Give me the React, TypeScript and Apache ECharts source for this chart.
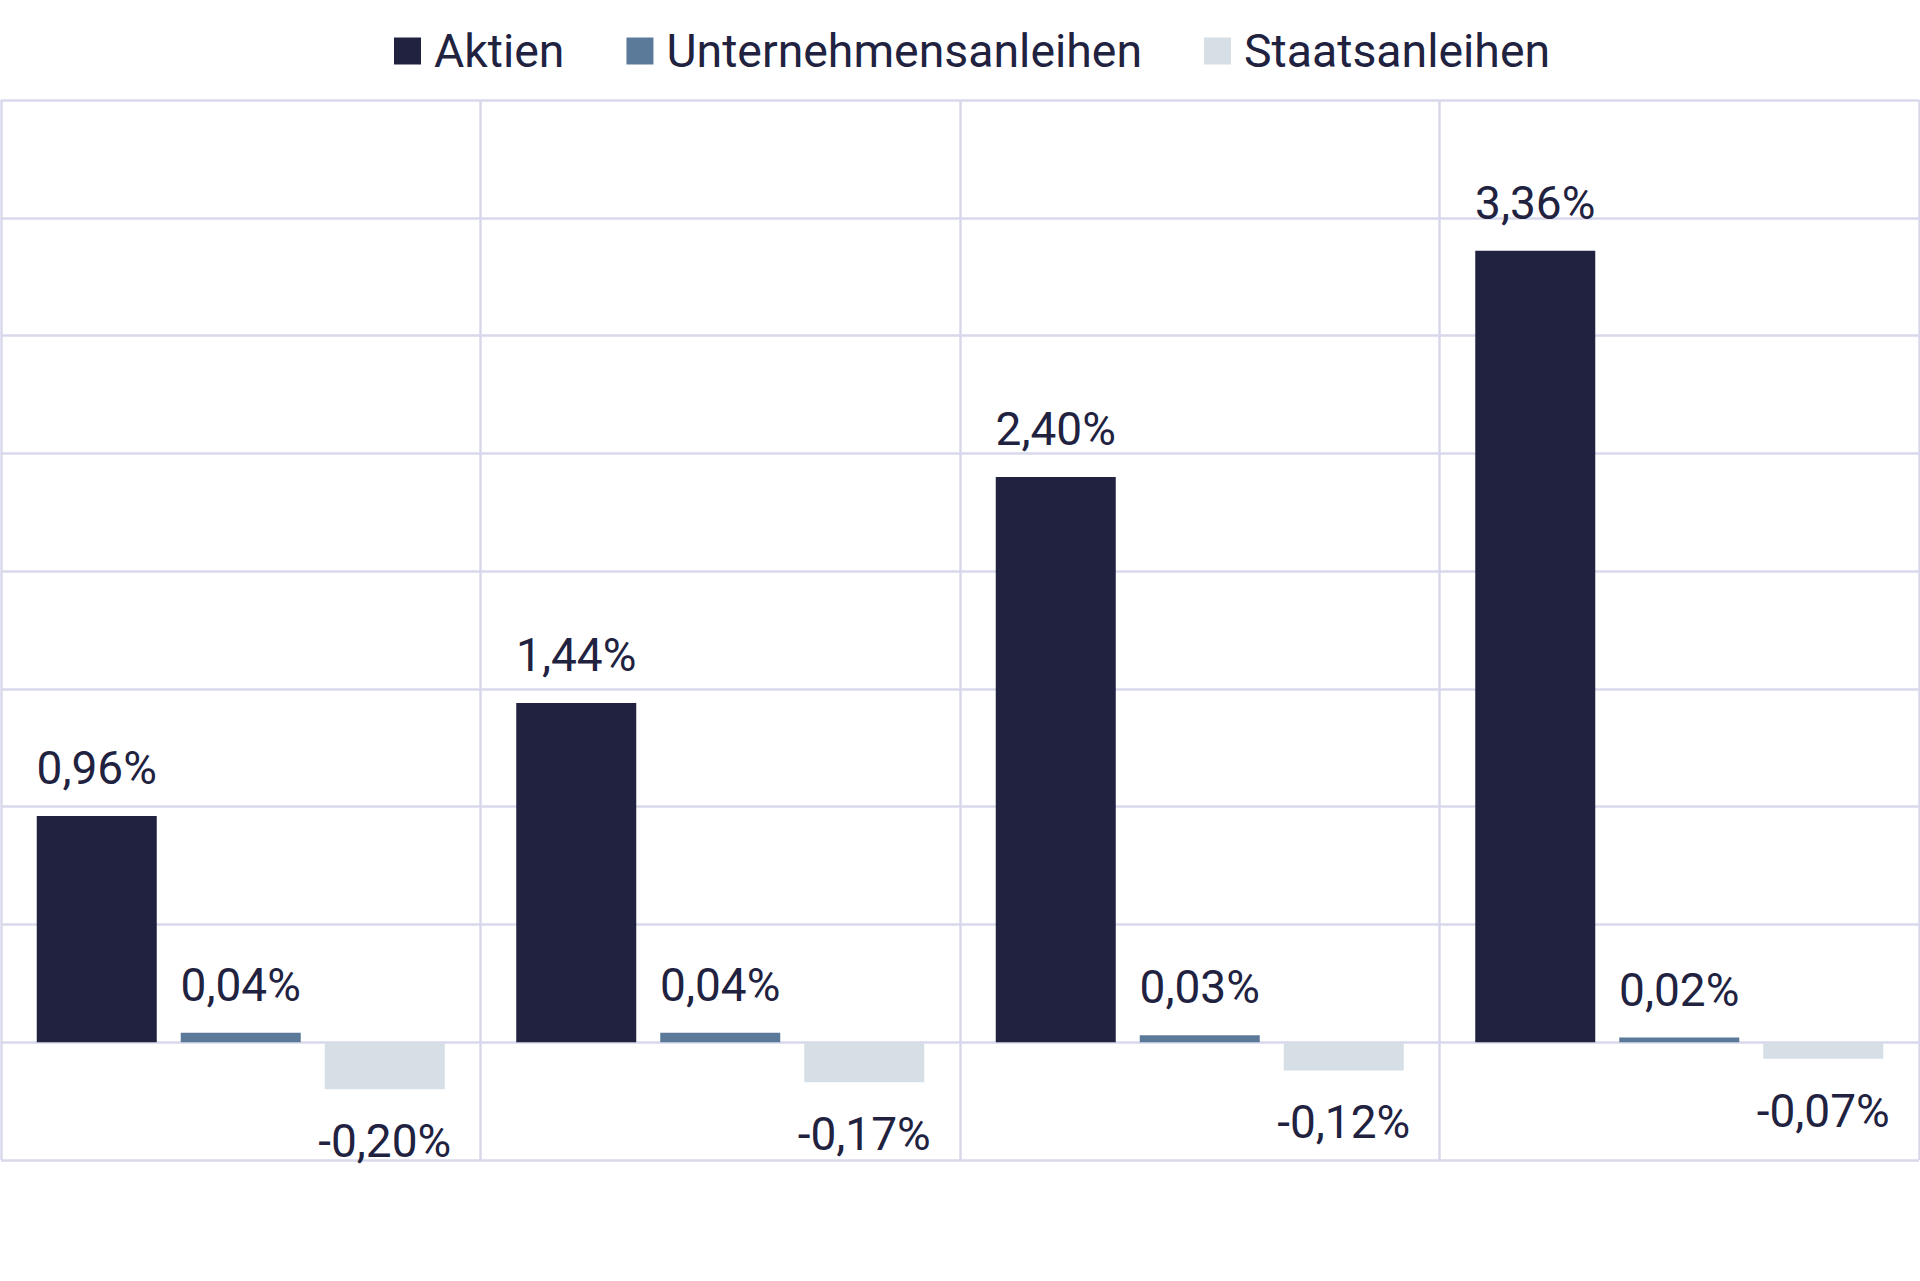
import React, { useRef, useEffect } from 'react';
import * as echarts from 'echarts';

const categories = ['A', 'B', 'C', 'D'];
const aktien = [0.96, 1.44, 2.4, 3.36];
const unternehmensanleihen = [0.04, 0.04, 0.03, 0.02];
const staatsanleihen = [-0.2, -0.17, -0.12, -0.07];

const TEXT = '#21223f';
const GRID = '#d8d8ec';

const fmt = (p: any) => p.value.toFixed(2).replace('.', ',') + '%';

export default function App() {
  const chartRef = useRef<HTMLDivElement>(null);

  useEffect(() => {
    if (!chartRef.current) return;
    const chart = echarts.init(chartRef.current, undefined, { renderer: 'svg' });

    const label = {
      show: true,
      formatter: fmt,
      fontFamily: 'Roboto',
      fontSize: 46,
      color: TEXT,
    };

    // labels sit above positive bars and below negative ones
    const mk = (name: string, data: number[], color: string) => ({
      name,
      type: 'bar',
      data: data.map((v) => ({
        value: v,
        label: { position: v < 0 ? 'bottom' : 'top', distance: v < 0 ? 29 : 25 },
      })),
      barWidth: 120,
      barGap: '20%',
      itemStyle: { color },
      label,
    });

    const option: echarts.EChartsOption = {
      animation: false,
      textStyle: { fontFamily: 'Roboto', color: TEXT },
      legend: {
        top: 23,
        left: 389,
        itemWidth: 27,
        itemHeight: 27,
        itemGap: 62,
        icon: 'rect',
        textStyle: { fontSize: 46.4, color: TEXT, fontFamily: 'Roboto', padding: [0, 0, 0, 8] },
        data: ['Aktien', 'Unternehmensanleihen', 'Staatsanleihen'],
      },
      grid: { left: 1, right: 1, top: 100, bottom: 121, containLabel: false },
      xAxis: {
        type: 'category',
        data: categories,
        axisLine: { show: false },
        axisTick: { show: false },
        axisLabel: { show: false },
        splitLine: { show: true, lineStyle: { color: GRID, width: 2.5 } },
      },
      yAxis: {
        type: 'value',
        min: -0.5,
        max: 4,
        interval: 0.5,
        axisLine: { show: false },
        axisTick: { show: false },
        axisLabel: { show: false },
        splitLine: { show: true, lineStyle: { color: GRID, width: 2.5 } },
      },
      series: [
        mk('Aktien', aktien, '#212240'),
        mk('Unternehmensanleihen', unternehmensanleihen, '#5b7a99'),
        mk('Staatsanleihen', staatsanleihen, '#d6dee6'),
      ] as echarts.SeriesOption[],
    };

    chart.setOption(option);
    return () => chart.dispose();
  }, []);

  return (
    <div
      ref={chartRef}
      style={{ position: 'absolute', left: 0, top: 0, width: 1920, height: 1281, background: '#fff' }}
    />
  );
}
